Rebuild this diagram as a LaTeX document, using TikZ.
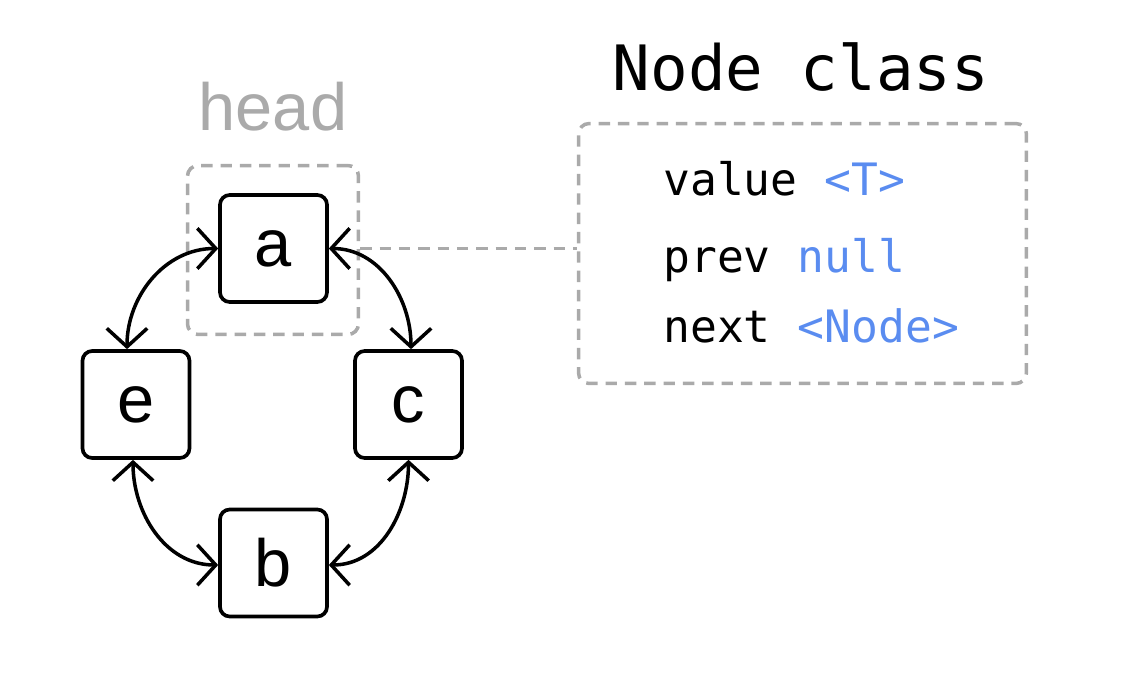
\documentclass[tikz,border=0pt]{standalone}
\usepackage{fontspec}
\setmainfont{Liberation Sans}
\setmonofont{DejaVu Sans Mono}
\usetikzlibrary{arrows.meta, positioning}
\definecolor{headgray}{HTML}{AAAAAA}
\definecolor{fieldblue}{HTML}{5A8CF0}
\tikzset{
    item/.style={
        rectangle,
        rounded corners=5.5pt,
        draw=black,
        line width=2.1pt,
        minimum width=2.14cm,
        minimum height=2.14cm,
        inner sep=0pt,
        font=\fontsize{38}{40}\selectfont
    },
    frame/.style={
        rectangle,
        rounded corners=6pt,
        draw=headgray,
        line width=2pt,
        dash pattern=on 6.5pt off 4.5pt,
        inner sep=0pt
    },
    field/.style={
        anchor=base west,
        inner sep=0pt,
        font=\ttfamily\fontsize{25.4}{28}\selectfont
    },
    link/.style={
        line width=2pt,
        {Straight Barb[length=10.5pt,width=23pt]}-{Straight Barb[length=10.5pt,width=23pt]}
    }
}

\begin{document}
\begin{tikzpicture}[x=0.02cm, y=-0.02cm]
\useasboundingbox (0,0) rectangle (1137,690);

% list items
\node (a) [item] at (273.5,248.5) {a};
\node (e) [item] at (136,404.5) {e};
\node (c) [item] at (408.5,404.5) {c};
\node (b) [item] at (273.5,563) {b};

% head marker
\node (head) [frame, minimum width=3.42cm, minimum height=3.38cm] at (273,250) {};
\node (headlabel) [anchor=base, text=headgray, font=\fontsize{38}{40}\selectfont] at (273,130) {head};

% class box
\node (cls) [frame, minimum width=8.96cm, minimum height=5.2cm] at (802.5,253.5) {};
\node (title) [anchor=base, font=\ttfamily\fontsize{35.6}{38}\selectfont] at (801,90) {Node class};
\node (value) [field] at (663,195) {value \textcolor{fieldblue}{<T>}};
\node (prev) [field] at (663,272) {prev \textcolor{fieldblue}{null}};
\node (next) [field] at (663,342) {next \textcolor{fieldblue}{<Node>}};

\draw [frame] (head.east |- a.east) -- (cls.west |- a.east);

% links
\draw [link] (a.west) to[out=180, in=90] ([xshift=-0.18cm]e.north);
\draw [link] (a.east) to[out=0, in=90] ([xshift=0.05cm]c.north);
\draw [link] ([xshift=-0.06cm]e.south) to[out=-90, in=180] ([yshift=-0.04cm]b.west);
\draw [link] (c.south) to[out=-90, in=0] ([yshift=-0.04cm]b.east);

\end{tikzpicture}
\end{document}
